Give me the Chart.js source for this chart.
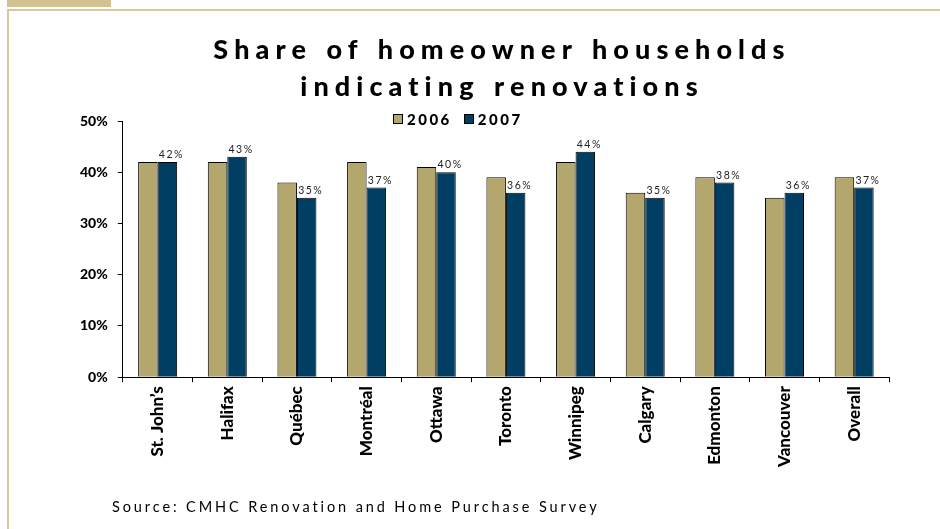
<!DOCTYPE html>
<html lang="en">
<head>
<meta charset="UTF-8">
<title>Share of homeowner households indicating renovations</title>
<script src="https://cdn.jsdelivr.net/npm/chart.js"></script>
<style>
    body { margin: 0; background: #fff; font-family: Lato, "DejaVu Sans", sans-serif; }
    .pagina { position: relative; width: 940px; height: 529px; overflow: hidden; }
    .faixa { position: absolute; left: 7px; top: 0; width: 104px; height: 7px; background: #d3c192; }
    .linhaTopo { position: absolute; left: 7px; top: 9px; right: 0; height: 2px; background: #d8c8a0; }
    .linhaEsq { position: absolute; left: 7px; top: 9px; bottom: 0; width: 2px; background: #d8c8a0; }
    .titulo {
        position: absolute; left: 0; width: 1004px; top: 30px; text-align: center;
        font-weight: 900; font-size: 27px; letter-spacing: 6.1px; word-spacing: 2px; line-height: 37px; color: #000;
    }
    .legenda {
        position: absolute; top: 110px; left: 393px; font-weight: 900; font-size: 15px;
        letter-spacing: 2.5px; display: flex; align-items: center;
    }
    .legenda span.caixa { display: inline-block; width: 8px; height: 8px; border: 1px solid #000; margin-right: 4px; }
    .legenda span.rot { margin-right: 12px; }
    .fonte { position: absolute; left: 112px; top: 498px; font-size: 14.5px; letter-spacing: 2.9px; color: #000; }
    .grafico { position: absolute; left: 0; top: 0; width: 940px; height: 529px; }
</style>
</head>
<body>
<div class="pagina">
    <div class="faixa"></div>
    <div class="linhaTopo"></div>
    <div class="linhaEsq"></div>

    <div class="grafico"><canvas id="graficoBarras" width="940" height="529"></canvas></div>

    <div class="titulo">Share of homeowner households<br>indicating renovations</div>
    <div class="legenda" id="legenda"></div>
    <div class="fonte">Source: CMHC Renovation and Home Purchase Survey</div>
</div>

<script>
    // cidades e percentuais por ano
    const cidades = ['St. John\u2019s', 'Halifax', 'Qu\u00e9bec', 'Montr\u00e9al', 'Ottawa', 'Toronto', 'Winnipeg', 'Calgary', 'Edmonton', 'Vancouver', 'Overall'];
    const valores2006 = [42, 42, 38, 42, 41, 39, 42, 36, 39, 35, 39];
    const valores2007 = [42, 43, 35, 37, 40, 36, 44, 35, 38, 36, 37];
    const anos = ['2006', '2007'];
    const cores = ['#b3a76e', '#003f63'];
    const ticksY = [0, 10, 20, 30, 40, 50];

    // legenda em html
    const legenda = document.getElementById('legenda');
    anos.forEach((ano, i) => {
        legenda.innerHTML += `<span class="caixa" style="background:${cores[i]}"></span><span class="rot">${ano}</span>`;
    });

    // rótulos de valor só na série 2007
    const rotulosValor = {
        id: 'rotulosValor',
        afterDatasetsDraw(chart) {
            const ctx = chart.ctx;
            const meta = chart.getDatasetMeta(1);
            ctx.save();
            ctx.font = '10.5px Lato, "DejaVu Sans", sans-serif';
            ctx.letterSpacing = '1.5px';
            ctx.fillStyle = '#222';
            ctx.textAlign = 'center';
            ctx.textBaseline = 'bottom';
            meta.data.forEach((barra, i) => {
                ctx.fillText(valores2007[i] + '%', barra.x + 4, barra.y - 2);
            });
            ctx.restore();
        }
    };

    const ctx1 = document.getElementById('graficoBarras');

    new Chart(ctx1, {
        type: 'bar',
        data: {
            labels: cidades,
            datasets: [{
                label: anos[0],
                data: valores2006,
                backgroundColor: cores[0],
                borderColor: '#000',
                borderWidth: 1
            }, {
                label: anos[1],
                data: valores2007,
                backgroundColor: cores[1],
                borderColor: '#000',
                borderWidth: 1
            }]
        },
        options: {
            responsive: false,
            animation: false,
            layout: {
                padding: { left: 70, right: 51, top: 121, bottom: 58 }
            },
            datasets: {
                bar: { barPercentage: 1, categoryPercentage: 0.56 }
            },
            scales: {
                x: {
                    grid: { drawOnChartArea: false, drawTicks: true, tickLength: 5, color: '#000', offset: true },
                    border: { color: '#000', width: 1 },
                    ticks: {
                        color: '#000',
                        minRotation: 90,
                        maxRotation: 90,
                        padding: 4,
                        font: { family: 'Lato, "DejaVu Sans", sans-serif', size: 17, weight: '900' }
                    }
                },
                y: {
                    min: 0,
                    max: 50,
                    afterBuildTicks(axis) {
                        axis.ticks = ticksY.map(v => ({ value: v }));
                    },
                    grid: { drawOnChartArea: false, drawTicks: true, tickLength: 5, color: '#000' },
                    border: { color: '#000', width: 1 },
                    ticks: {
                        color: '#000',
                        padding: 10,
                        font: { family: 'Lato, "DejaVu Sans", sans-serif', size: 14, weight: '900' },
                        callback: v => v + '%'
                    }
                }
            },
            plugins: {
                legend: { display: false },
                title: { display: false },
                tooltip: { enabled: false }
            }
        },
        plugins: [rotulosValor]
    });
</script>
</body>
</html>
